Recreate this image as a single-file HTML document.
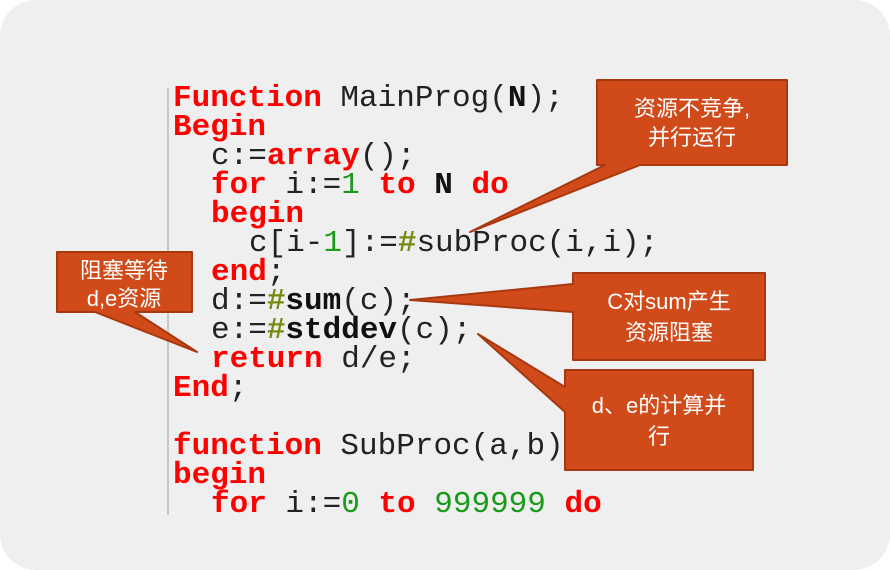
<!DOCTYPE html>
<html><head><meta charset="utf-8"><style>
body{margin:0;width:890px;height:570px;background:#fff;overflow:hidden}
svg{display:block}
.c{font-family:"Liberation Mono","Noto Sans CJK SC",monospace;font-size:31px}
.r{fill:#f00;font-weight:bold}.k{fill:#222}.g{fill:#1a9a1a}.b{fill:#111;font-weight:bold}.h{fill:#7a8a10;font-weight:bold}
.t{font-family:"Liberation Sans","Noto Sans CJK SC",sans-serif;font-size:22px;fill:#fff}
</style></head><body>
<svg width="890" height="570" viewBox="0 0 890 570">
<rect x="0" y="0" width="890" height="570" rx="36" fill="#efefef"/>
<line x1="168" y1="88" x2="168" y2="515" stroke="#c8c8c8" stroke-width="2"/>
<g class="c">
<text x="173" y="106"><tspan class="r">Function</tspan><tspan class="k"> MainProg(</tspan><tspan class="b">N</tspan><tspan class="k">);</tspan></text>
<text x="173" y="135"><tspan class="r">Begin</tspan></text>
<text x="211" y="164"><tspan class="k">c:=</tspan><tspan class="r">array</tspan><tspan class="k">();</tspan></text>
<text x="211" y="193"><tspan class="r">for</tspan><tspan class="k"> i:=</tspan><tspan class="g">1</tspan><tspan class="r"> to </tspan><tspan class="b">N</tspan><tspan class="r"> do</tspan></text>
<text x="211" y="222"><tspan class="r">begin</tspan></text>
<text x="249" y="251"><tspan class="k">c[i-</tspan><tspan class="g">1</tspan><tspan class="k">]:=</tspan><tspan class="h">#</tspan><tspan class="k">subProc(i,i);</tspan></text>
<text x="211" y="280"><tspan class="r">end</tspan><tspan class="k">;</tspan></text>
<text x="211" y="309"><tspan class="k">d:=</tspan><tspan class="h">#</tspan><tspan class="b">sum</tspan><tspan class="k">(c);</tspan></text>
<text x="211" y="338"><tspan class="k">e:=</tspan><tspan class="h">#</tspan><tspan class="b">stddev</tspan><tspan class="k">(c);</tspan></text>
<text x="211" y="367"><tspan class="r">return</tspan><tspan class="k"> d/e;</tspan></text>
<text x="173" y="396"><tspan class="r">End</tspan><tspan class="k">;</tspan></text>
<text x="173" y="454"><tspan class="r">function</tspan><tspan class="k"> SubProc(a,b)</tspan></text>
<text x="173" y="483"><tspan class="r">begin</tspan></text>
<text x="211" y="512"><tspan class="r">for</tspan><tspan class="k"> i:=</tspan><tspan class="g">0</tspan><tspan class="r"> to </tspan><tspan class="g">999999</tspan><tspan class="r"> do</tspan></text>
</g>
<g fill="#d04a1a" stroke="#a8380f" stroke-width="2" stroke-linejoin="round">
<path d="M597,80 H787 V165 H640 L470,232 L605,165 H597 Z"/>
<path d="M57,252 H192 V312 H135 L197,352 L95,312 H57 Z"/>
<path d="M573,273 H765 V360 H573 V312 L410,300 L573,284 Z"/>
<path d="M565,370 H753 V470 H565 V412 L478,334 L565,387 Z"/>
</g>
<g class="t" text-anchor="middle">
<text x="692" y="116">资源不竞争,</text><text x="692" y="145">并行运行</text>
<text x="124" y="278">阻塞等待</text><text x="124" y="306">d,e资源</text>
<text x="669" y="309">C对sum产生</text><text x="669" y="340">资源阻塞</text>
<text x="659" y="413">d、e的计算并</text><text x="659" y="444">行</text>
</g>
</svg>
</body></html>
